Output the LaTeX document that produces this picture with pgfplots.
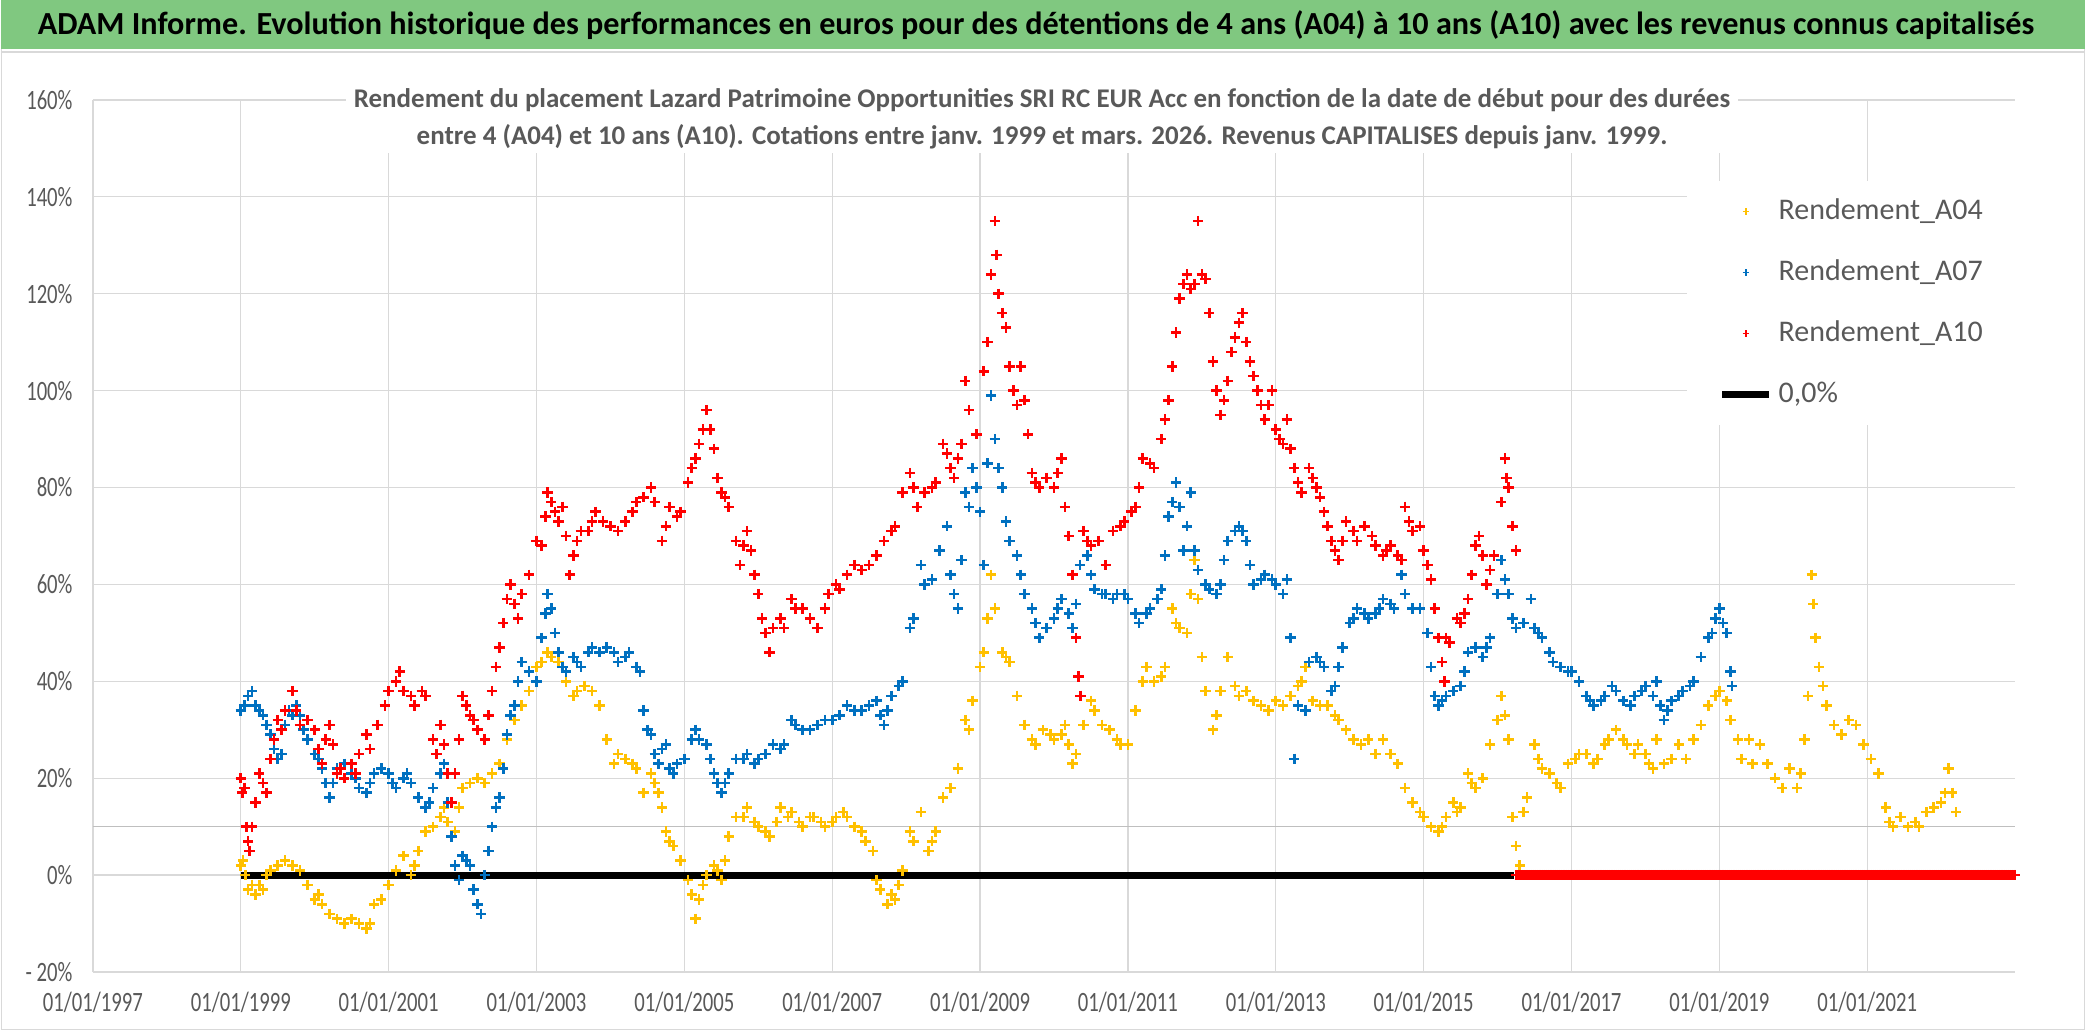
\documentclass[border=0pt]{standalone}
\usepackage{fontspec}
\setmainfont{Carlito}
\newfontfamily\condfont{Carlito}[FakeStretch=0.74]
\usepackage{pgfplots}
\pgfplotsset{compat=1.18}

\definecolor{titlegreen}{RGB}{128,200,128}
\definecolor{textgray}{RGB}{89,89,89}
\definecolor{gridgray}{RGB}{217,217,217}
\definecolor{midgray}{RGB}{191,191,191}
\definecolor{cA04}{RGB}{255,192,0}
\definecolor{cA07}{RGB}{0,112,192}
\definecolor{cA10}{RGB}{255,0,0}

\pgfplotsset{
  markleg/.style={legend image code/.code={\draw[mark repeat=2,mark phase=2,##1,mark size=1.6pt,line width=0.8pt] plot coordinates {(0pt,0pt) (11.75pt,0pt) (23.5pt,0pt)};}},
  lineleg/.style={legend image code/.code={\draw[##1] (0pt,0pt) -- (23.5pt,0pt);}},
  cross/.style={only marks, mark=+, mark size=2.6pt, line width=1.3pt, color=#1, markleg},
}

\begin{document}
\begin{tikzpicture}
% page and title bar
\fill[white] (0pt,0pt) rectangle (1043pt,515.5pt);
\draw[gridgray, line width=0.6pt] (0.3pt,0.3pt) rectangle (1042.7pt,515.2pt);
\fill[titlegreen] (0pt,491pt) rectangle (1043pt,515.5pt);
\draw[gridgray, line width=1pt] (0pt,489.5pt) -- (1043pt,489.5pt);
\node[font=\bfseries\fontsize{16.1}{18}\selectfont, text=black] at (518pt,503pt)
  {ADAM Informe. Evolution historique des performances en euros pour des détentions de 4 ans (A04) à 10 ans (A10) avec les revenus connus capitalisés};

\begin{axis}[
  at={(46pt,29pt)}, anchor=south west,
  scale only axis, width=962pt, height=436.5pt,
  xmin=1997, xmax=2023, ymin=-20, ymax=160,
  xtick={1997,1999,...,2021},
  xticklabels={01/01/1997,01/01/1999,01/01/2001,01/01/2003,01/01/2005,01/01/2007,01/01/2009,01/01/2011,01/01/2013,01/01/2015,01/01/2017,01/01/2019,01/01/2021},
  ytick={-20,0,20,40,60,80,100,120,140,160},
  yticklabels={- 20\%,0\%,20\%,40\%,60\%,80\%,100\%,120\%,140\%,160\%},
  extra y ticks={10}, extra y tick labels={},
  extra y tick style={major grid style={draw=midgray, line width=0.8pt}},
  grid=major, major grid style={draw=gridgray, line width=0.7pt},
  axis line style={draw=none}, major tick length=0pt,
  xticklabel style={font=\condfont\fontsize{14}{16}\selectfont, text=textgray, anchor=north, inner sep=0pt, yshift=-10pt},
  yticklabel style={font=\condfont\fontsize{14}{16}\selectfont, text=textgray, anchor=east, inner sep=0pt, xshift=-10pt},
  clip=false,
  legend style={at={(1,1)}, anchor=north east, yshift=-40.5pt, fill=white, draw=none,
    inner xsep=16pt, inner ysep=9pt, row sep=18pt, column sep=3pt,
    font=\fontsize{15}{17}\selectfont, text=textgray,
    nodes={inner sep=0pt, text height=10pt, text depth=2.5pt}},
  legend cell align=left,
]
\addplot[cross=cA04]
coordinates {
(1999.00,2) (1999.03,3) (1999.06,0) (1999.10,-3) (1999.15,-2) (1999.20,-4) (1999.25,-2) (1999.30,-3) (1999.35,0) (1999.40,1)
(1999.50,2) (1999.60,3) (1999.70,2) (1999.80,1) (1999.90,-2) (2000.00,-5) (2000.05,-4) (2000.10,-6) (2000.20,-8) (2000.30,-9)
(2000.40,-10) (2000.50,-9) (2000.60,-10) (2000.70,-11) (2000.75,-10) (2000.80,-6) (2000.90,-5) (2001.00,-2) (2001.10,1) (2001.20,4)
(2001.30,0) (2001.35,2) (2001.40,5) (2001.50,9) (2001.60,10) (2001.70,12) (2001.75,14) (2001.80,11) (2001.90,9) (2001.95,14)
(2002.00,18) (2002.10,19) (2002.20,20) (2002.30,19) (2002.40,21) (2002.50,23) (2002.60,28) (2002.70,32) (2002.80,35) (2002.90,38)
(2003.00,43) (2003.07,44) (2003.15,46) (2003.20,45) (2003.30,44) (2003.40,40) (2003.50,37) (2003.55,38) (2003.65,39) (2003.75,38)
(2003.85,35) (2003.95,28) (2004.05,23) (2004.10,25) (2004.20,24) (2004.30,23) (2004.35,22) (2004.45,17) (2004.55,21) (2004.60,19)
(2004.65,17) (2004.70,14) (2004.75,9) (2004.80,7) (2004.85,6) (2004.95,3) (2005.05,-1) (2005.10,-4) (2005.15,-9) (2005.20,-5)
(2005.25,-2) (2005.30,0) (2005.40,2) (2005.45,1) (2005.50,-1) (2005.55,3) (2005.60,8) (2005.70,12) (2005.80,12) (2005.85,14)
(2005.95,11) (2006.00,10) (2006.10,9) (2006.15,8) (2006.25,11) (2006.30,14) (2006.40,12) (2006.45,13) (2006.55,11) (2006.60,10)
(2006.70,12) (2006.75,12) (2006.85,11) (2006.90,10) (2007.00,11) (2007.05,12) (2007.15,13) (2007.20,12) (2007.30,10) (2007.40,9)
(2007.45,7) (2007.55,5) (2007.60,-1) (2007.65,-3) (2007.75,-6) (2007.80,-4) (2007.85,-5) (2007.90,-2) (2007.95,1) (2008.05,9)
(2008.10,7) (2008.20,13) (2008.30,5) (2008.35,7) (2008.40,9) (2008.50,16) (2008.60,18) (2008.70,22) (2008.80,32) (2008.85,30)
(2008.90,36) (2009.00,43) (2009.05,46) (2009.10,53) (2009.15,62) (2009.20,55) (2009.30,46) (2009.35,45) (2009.40,44) (2009.50,37)
(2009.60,31) (2009.70,28) (2009.75,27) (2009.85,30) (2009.95,29) (2010.00,28) (2010.10,29) (2010.15,31) (2010.20,27) (2010.25,23)
(2010.30,25) (2010.40,31) (2010.50,36) (2010.55,34) (2010.65,31) (2010.75,30) (2010.85,28) (2010.90,27) (2011.00,27) (2011.10,34)
(2011.20,40) (2011.25,43) (2011.35,40) (2011.45,41) (2011.50,43) (2011.60,55) (2011.65,52) (2011.70,51) (2011.80,50) (2011.85,58)
(2011.90,65) (2011.95,57) (2012.00,45) (2012.05,38) (2012.15,30) (2012.20,33) (2012.25,38) (2012.35,45) (2012.45,39) (2012.50,37)
(2012.60,38) (2012.70,36) (2012.80,35) (2012.90,34) (2013.00,36) (2013.10,35) (2013.20,37) (2013.30,39) (2013.35,40) (2013.40,43)
(2013.50,36) (2013.60,35) (2013.70,35) (2013.80,33) (2013.85,32) (2013.95,30) (2014.05,28) (2014.15,27) (2014.25,28) (2014.35,25)
(2014.45,28) (2014.55,25) (2014.65,23) (2014.75,18) (2014.85,15) (2014.95,13) (2015.00,12) (2015.10,10) (2015.20,9) (2015.25,10)
(2015.30,12) (2015.40,15) (2015.45,13) (2015.50,14) (2015.60,21) (2015.65,19) (2015.70,18) (2015.80,20) (2015.90,27) (2016.00,32)
(2016.05,37) (2016.10,33) (2016.15,28) (2016.20,12) (2016.25,6) (2016.30,2) (2016.35,13) (2016.40,16) (2016.50,27) (2016.55,24)
(2016.60,22) (2016.70,21) (2016.80,19) (2016.85,18) (2016.95,23) (2017.05,24) (2017.10,25) (2017.20,25) (2017.30,23) (2017.35,24)
(2017.45,27) (2017.50,28) (2017.60,30) (2017.70,28) (2017.75,27) (2017.85,25) (2017.90,27) (2018.00,25) (2018.05,23) (2018.10,22)
(2018.15,28) (2018.25,23) (2018.35,24) (2018.45,27) (2018.55,24) (2018.65,28) (2018.75,31) (2018.85,35) (2018.95,37) (2019.00,38)
(2019.10,36) (2019.15,32) (2019.25,28) (2019.30,24) (2019.40,28) (2019.45,23) (2019.55,27) (2019.65,23) (2019.75,20) (2019.85,18)
(2019.95,22) (2020.05,18) (2020.10,21) (2020.15,28) (2020.20,37) (2020.25,62) (2020.27,56) (2020.30,49) (2020.35,43) (2020.40,39)
(2020.45,35) (2020.55,31) (2020.65,29) (2020.75,32) (2020.85,31) (2020.95,27) (2021.05,24) (2021.15,21) (2021.25,14) (2021.30,11)
(2021.35,10) (2021.45,12) (2021.55,10) (2021.65,11) (2021.70,10) (2021.80,13) (2021.90,14) (2022.00,15) (2022.05,17) (2022.10,22)
(2022.15,17) (2022.20,13)
};
\addlegendentry{Rendement\_A04}

\addplot[cross=cA07]
coordinates {
(1999.00,34) (1999.05,35) (1999.10,37) (1999.15,38) (1999.20,35) (1999.25,34) (1999.30,33) (1999.35,31) (1999.40,29) (1999.45,26)
(1999.50,24) (1999.55,25) (1999.60,31) (1999.65,34) (1999.70,33) (1999.75,35) (1999.80,33) (1999.85,30) (1999.90,28) (2000.00,25)
(2000.05,24) (2000.10,22) (2000.15,19) (2000.20,16) (2000.25,19) (2000.30,22) (2000.40,23) (2000.50,21) (2000.55,20) (2000.60,18)
(2000.70,17) (2000.75,19) (2000.80,21) (2000.90,22) (2001.00,21) (2001.05,19) (2001.10,18) (2001.20,20) (2001.25,21) (2001.30,19)
(2001.40,16) (2001.50,14) (2001.55,15) (2001.60,18) (2001.70,21) (2001.75,23) (2001.80,15) (2001.85,8) (2001.90,2) (2001.95,-1)
(2002.00,4) (2002.05,3) (2002.10,2) (2002.15,-3) (2002.20,-6) (2002.25,-8) (2002.30,0) (2002.35,5) (2002.40,10) (2002.45,14)
(2002.50,16) (2002.55,22) (2002.60,29) (2002.65,33) (2002.70,35) (2002.75,40) (2002.80,44) (2002.90,42) (2003.00,40) (2003.07,49)
(2003.12,54) (2003.15,58) (2003.20,55) (2003.25,50) (2003.30,46) (2003.35,43) (2003.40,42) (2003.50,45) (2003.55,44) (2003.60,43)
(2003.70,46) (2003.75,47) (2003.85,46) (2003.95,47) (2004.05,46) (2004.10,44) (2004.20,45) (2004.25,46) (2004.35,43) (2004.40,42)
(2004.45,34) (2004.50,30) (2004.55,29) (2004.60,25) (2004.65,23) (2004.70,26) (2004.75,27) (2004.80,22) (2004.85,21) (2004.90,23)
(2005.00,24) (2005.10,28) (2005.15,30) (2005.20,28) (2005.30,27) (2005.35,24) (2005.40,21) (2005.45,19) (2005.50,17) (2005.55,19)
(2005.60,21) (2005.70,24) (2005.80,24) (2005.85,25) (2005.95,23) (2006.00,24) (2006.10,25) (2006.20,27) (2006.30,26) (2006.35,27)
(2006.45,32) (2006.50,31) (2006.60,30) (2006.70,30) (2006.80,31) (2006.90,32) (2007.00,32) (2007.10,33) (2007.20,35) (2007.30,34)
(2007.40,34) (2007.50,35) (2007.60,36) (2007.65,33) (2007.70,31) (2007.75,34) (2007.80,37) (2007.90,39) (2007.95,40) (2008.05,51)
(2008.10,53) (2008.20,64) (2008.25,60) (2008.35,61) (2008.45,67) (2008.55,72) (2008.60,62) (2008.65,58) (2008.70,55) (2008.75,65)
(2008.80,79) (2008.85,76) (2008.90,84) (2008.95,80) (2009.00,75) (2009.05,64) (2009.10,85) (2009.15,99) (2009.20,90) (2009.25,84)
(2009.30,80) (2009.35,73) (2009.40,69) (2009.50,66) (2009.55,62) (2009.60,58) (2009.70,55) (2009.75,52) (2009.80,49) (2009.90,51)
(2010.00,53) (2010.05,55) (2010.10,57) (2010.20,54) (2010.25,51) (2010.30,56) (2010.35,64) (2010.45,66) (2010.50,62) (2010.55,59)
(2010.65,58) (2010.70,58) (2010.80,57) (2010.85,58) (2010.95,58) (2011.00,57) (2011.10,54) (2011.15,52) (2011.25,54) (2011.30,55)
(2011.40,57) (2011.45,59) (2011.50,66) (2011.55,74) (2011.60,77) (2011.65,81) (2011.70,76) (2011.75,67) (2011.80,72) (2011.85,79)
(2011.90,67) (2011.95,63) (2012.05,60) (2012.10,59) (2012.20,58) (2012.25,60) (2012.30,65) (2012.35,69) (2012.45,71) (2012.50,72)
(2012.55,71) (2012.60,69) (2012.65,64) (2012.70,60) (2012.80,61) (2012.85,62) (2012.95,61) (2013.00,60) (2013.10,58) (2013.15,61)
(2013.20,49) (2013.25,24) (2013.30,35) (2013.40,34) (2013.45,44) (2013.55,45) (2013.60,44) (2013.65,43) (2013.75,38) (2013.80,39)
(2013.85,43) (2013.90,47) (2014.00,52) (2014.05,53) (2014.10,55) (2014.20,54) (2014.25,53) (2014.35,54) (2014.40,55) (2014.45,57)
(2014.55,56) (2014.60,55) (2014.70,62) (2014.75,58) (2014.85,55) (2014.95,55) (2015.05,50) (2015.10,43) (2015.15,37) (2015.20,35)
(2015.25,36) (2015.30,37) (2015.40,38) (2015.50,39) (2015.55,42) (2015.60,46) (2015.70,47) (2015.80,45) (2015.85,47) (2015.90,49)
(2016.00,58) (2016.05,65) (2016.10,61) (2016.15,58) (2016.20,53) (2016.25,51) (2016.35,52) (2016.45,57) (2016.50,51) (2016.55,50)
(2016.60,49) (2016.70,46) (2016.75,44) (2016.85,43) (2016.95,42) (2017.00,42) (2017.10,40) (2017.20,37) (2017.25,36) (2017.30,35)
(2017.40,36) (2017.45,37) (2017.55,39) (2017.60,38) (2017.70,36) (2017.80,35) (2017.85,37) (2017.95,38) (2018.00,39) (2018.10,37)
(2018.15,40) (2018.20,35) (2018.25,32) (2018.30,34) (2018.35,36) (2018.45,37) (2018.50,38) (2018.60,39) (2018.65,40) (2018.75,45)
(2018.85,49) (2018.90,50) (2018.95,53) (2019.00,55) (2019.05,52) (2019.10,50) (2019.15,42) (2019.17,39)
};
\addlegendentry{Rendement\_A07}

\addplot[cross=cA10]
coordinates {
(1999.00,20) (1999.02,17) (1999.05,18) (1999.08,10) (1999.10,7) (1999.12,5) (1999.15,10) (1999.20,15) (1999.25,21) (1999.30,19)
(1999.35,17) (1999.40,24) (1999.45,28) (1999.50,32) (1999.55,30) (1999.60,34) (1999.70,38) (1999.75,34) (1999.80,31) (1999.90,32)
(2000.00,30) (2000.05,26) (2000.10,23) (2000.15,28) (2000.20,31) (2000.25,27) (2000.30,21) (2000.35,22) (2000.40,20) (2000.50,23)
(2000.55,21) (2000.60,25) (2000.70,29) (2000.75,26) (2000.85,31) (2000.95,35) (2001.00,38) (2001.10,40) (2001.15,42) (2001.20,38)
(2001.30,37) (2001.35,35) (2001.45,38) (2001.50,37) (2001.60,28) (2001.65,25) (2001.70,31) (2001.75,27) (2001.80,21) (2001.85,15)
(2001.90,21) (2001.95,28) (2002.00,37) (2002.05,35) (2002.10,33) (2002.15,32) (2002.20,30) (2002.30,28) (2002.35,33) (2002.40,38)
(2002.45,43) (2002.50,47) (2002.55,52) (2002.60,57) (2002.65,60) (2002.70,56) (2002.75,53) (2002.80,58) (2002.90,62) (2003.00,69)
(2003.07,68) (2003.12,74) (2003.15,79) (2003.20,77) (2003.25,75) (2003.30,73) (2003.35,76) (2003.40,70) (2003.45,62) (2003.50,66)
(2003.55,69) (2003.60,71) (2003.70,71) (2003.75,73) (2003.80,75) (2003.90,73) (2004.00,72) (2004.10,71) (2004.20,73) (2004.30,75)
(2004.35,77) (2004.45,78) (2004.55,80) (2004.60,77) (2004.70,69) (2004.75,72) (2004.80,76) (2004.90,74) (2004.95,75) (2005.05,81)
(2005.10,84) (2005.15,86) (2005.20,89) (2005.25,92) (2005.30,96) (2005.35,92) (2005.40,88) (2005.45,82) (2005.50,79) (2005.55,78)
(2005.60,76) (2005.70,69) (2005.75,64) (2005.80,68) (2005.85,71) (2005.90,67) (2005.95,62) (2006.00,58) (2006.05,53) (2006.10,50)
(2006.15,46) (2006.20,51) (2006.30,53) (2006.35,51) (2006.45,57) (2006.50,55) (2006.60,55) (2006.70,53) (2006.80,51) (2006.90,55)
(2006.95,58) (2007.05,60) (2007.10,59) (2007.20,62) (2007.30,64) (2007.40,63) (2007.50,64) (2007.60,66) (2007.70,69) (2007.80,71)
(2007.85,72) (2007.95,79) (2008.05,83) (2008.10,80) (2008.15,76) (2008.25,79) (2008.35,80) (2008.40,81) (2008.50,89) (2008.55,87)
(2008.60,84) (2008.65,82) (2008.70,86) (2008.75,89) (2008.80,102) (2008.85,96) (2008.95,91) (2009.05,104) (2009.10,110) (2009.15,124)
(2009.20,135) (2009.22,128) (2009.25,120) (2009.30,116) (2009.35,113) (2009.40,105) (2009.45,100) (2009.50,97) (2009.55,105) (2009.60,98)
(2009.65,91) (2009.70,83) (2009.75,81) (2009.80,80) (2009.90,82) (2010.00,80) (2010.05,83) (2010.10,86) (2010.15,76) (2010.20,70)
(2010.25,62) (2010.30,49) (2010.33,41) (2010.36,37) (2010.40,71) (2010.45,69) (2010.50,68) (2010.60,69) (2010.70,64) (2010.80,71)
(2010.90,72) (2010.95,73) (2011.05,75) (2011.10,76) (2011.15,80) (2011.20,86) (2011.30,85) (2011.35,84) (2011.45,90) (2011.50,94)
(2011.55,98) (2011.60,105) (2011.65,112) (2011.70,119) (2011.75,122) (2011.80,124) (2011.85,121) (2011.90,122) (2011.95,135) (2012.00,124)
(2012.05,123) (2012.10,116) (2012.15,106) (2012.20,100) (2012.25,95) (2012.30,98) (2012.35,102) (2012.40,108) (2012.45,111) (2012.50,114)
(2012.55,116) (2012.60,110) (2012.65,106) (2012.70,103) (2012.75,100) (2012.80,97) (2012.85,94) (2012.90,97) (2012.95,100) (2013.00,92)
(2013.05,90) (2013.10,89) (2013.15,94) (2013.20,88) (2013.25,84) (2013.30,81) (2013.35,79) (2013.45,84) (2013.50,82) (2013.55,80)
(2013.60,78) (2013.65,75) (2013.70,72) (2013.75,69) (2013.80,67) (2013.85,65) (2013.90,69) (2013.95,73) (2014.05,71) (2014.10,69)
(2014.20,72) (2014.30,70) (2014.35,68) (2014.45,66) (2014.50,67) (2014.55,68) (2014.65,66) (2014.70,65) (2014.75,76) (2014.80,73)
(2014.85,71) (2014.95,72) (2015.00,67) (2015.05,64) (2015.10,61) (2015.15,55) (2015.20,49) (2015.25,44) (2015.28,40) (2015.30,49)
(2015.35,48) (2015.45,53) (2015.50,52) (2015.55,54) (2015.60,57) (2015.65,62) (2015.70,68) (2015.75,70) (2015.80,66) (2015.85,60)
(2015.90,63) (2015.95,66) (2016.05,77) (2016.10,86) (2016.12,82) (2016.15,80) (2016.20,72) (2016.25,67)
(2016.25,0) (2016.30,0) (2016.35,0) (2016.40,0) (2016.45,0) (2016.50,0) (2016.55,0) (2016.60,0) (2016.65,0)
(2016.70,0) (2016.75,0) (2016.80,0) (2016.85,0) (2016.90,0) (2016.95,0)
(2017.00,0) (2017.05,0) (2017.10,0) (2017.15,0) (2017.20,0) (2017.25,0) (2017.30,0) (2017.35,0) (2017.40,0) (2017.45,0)
(2017.50,0) (2017.55,0) (2017.60,0) (2017.65,0) (2017.70,0) (2017.75,0) (2017.80,0) (2017.85,0) (2017.90,0) (2017.95,0)
(2018.00,0) (2018.05,0) (2018.10,0) (2018.15,0) (2018.20,0) (2018.25,0) (2018.30,0) (2018.35,0) (2018.40,0) (2018.45,0)
(2018.50,0) (2018.55,0) (2018.60,0) (2018.65,0) (2018.70,0) (2018.75,0) (2018.80,0) (2018.85,0) (2018.90,0) (2018.95,0)
(2019.00,0) (2019.05,0) (2019.10,0) (2019.15,0) (2019.20,0) (2019.25,0) (2019.30,0) (2019.35,0) (2019.40,0) (2019.45,0)
(2019.50,0) (2019.55,0) (2019.60,0) (2019.65,0) (2019.70,0) (2019.75,0) (2019.80,0) (2019.85,0) (2019.90,0) (2019.95,0)
(2020.00,0) (2020.05,0) (2020.10,0) (2020.15,0) (2020.20,0) (2020.25,0) (2020.30,0) (2020.35,0) (2020.40,0) (2020.45,0)
(2020.50,0) (2020.55,0) (2020.60,0) (2020.65,0) (2020.70,0) (2020.75,0) (2020.80,0) (2020.85,0) (2020.90,0) (2020.95,0)
(2021.00,0) (2021.05,0) (2021.10,0) (2021.15,0) (2021.20,0) (2021.25,0) (2021.30,0) (2021.35,0) (2021.40,0) (2021.45,0)
(2021.50,0) (2021.55,0) (2021.60,0) (2021.65,0) (2021.70,0) (2021.75,0) (2021.80,0) (2021.85,0) (2021.90,0) (2021.95,0)
(2022.00,0) (2022.05,0) (2022.10,0) (2022.15,0) (2022.20,0) (2022.25,0) (2022.30,0) (2022.35,0) (2022.40,0) (2022.45,0)
(2022.50,0) (2022.55,0) (2022.60,0) (2022.65,0) (2022.70,0) (2022.75,0) (2022.80,0) (2022.85,0) (2022.90,0) (2022.95,0)
(2023.00,0)
(2016.275,0) (2016.325,0) (2016.375,0) (2016.425,0) (2016.475,0) (2016.525,0) (2016.575,0) (2016.625,0) (2016.675,0)
(2016.725,0) (2016.775,0) (2016.825,0) (2016.875,0) (2016.925,0) (2016.975,0)
(2017.025,0) (2017.075,0) (2017.125,0) (2017.175,0) (2017.225,0) (2017.275,0) (2017.325,0) (2017.375,0) (2017.425,0) (2017.475,0)
(2017.525,0) (2017.575,0) (2017.625,0) (2017.675,0) (2017.725,0) (2017.775,0) (2017.825,0) (2017.875,0) (2017.925,0) (2017.975,0)
(2018.025,0) (2018.075,0) (2018.125,0) (2018.175,0) (2018.225,0) (2018.275,0) (2018.325,0) (2018.375,0) (2018.425,0) (2018.475,0)
(2018.525,0) (2018.575,0) (2018.625,0) (2018.675,0) (2018.725,0) (2018.775,0) (2018.825,0) (2018.875,0) (2018.925,0) (2018.975,0)
(2019.025,0) (2019.075,0) (2019.125,0) (2019.175,0) (2019.225,0) (2019.275,0) (2019.325,0) (2019.375,0) (2019.425,0) (2019.475,0)
(2019.525,0) (2019.575,0) (2019.625,0) (2019.675,0) (2019.725,0) (2019.775,0) (2019.825,0) (2019.875,0) (2019.925,0) (2019.975,0)
(2020.025,0) (2020.075,0) (2020.125,0) (2020.175,0) (2020.225,0) (2020.275,0) (2020.325,0) (2020.375,0) (2020.425,0) (2020.475,0)
(2020.525,0) (2020.575,0) (2020.625,0) (2020.675,0) (2020.725,0) (2020.775,0) (2020.825,0) (2020.875,0) (2020.925,0) (2020.975,0)
(2021.025,0) (2021.075,0) (2021.125,0) (2021.175,0) (2021.225,0) (2021.275,0) (2021.325,0) (2021.375,0) (2021.425,0) (2021.475,0)
(2021.525,0) (2021.575,0) (2021.625,0) (2021.675,0) (2021.725,0) (2021.775,0) (2021.825,0) (2021.875,0) (2021.925,0) (2021.975,0)
(2022.025,0) (2022.075,0) (2022.125,0) (2022.175,0) (2022.225,0) (2022.275,0) (2022.325,0) (2022.375,0) (2022.425,0) (2022.475,0)
(2022.525,0) (2022.575,0) (2022.625,0) (2022.675,0) (2022.725,0) (2022.775,0) (2022.825,0) (2022.875,0) (2022.925,0) (2022.975,0)
};
\addlegendentry{Rendement\_A10}

\addplot[black, line width=3.4pt, lineleg]
coordinates {(1999.00,0) (2016.22,0)};
\addlegendentry{0,0\%}
\end{axis}

% chart title inside the plot area
\node[fill=white, inner xsep=4pt, inner ysep=2pt, align=center, text=textgray,
  font=\bfseries\fontsize{13.5}{18.5}\selectfont] at (521pt,456.25pt)
  {Rendement du placement Lazard Patrimoine Opportunities SRI RC EUR Acc en fonction de la date de début pour des durées\\
   entre 4 (A04) et 10 ans (A10). Cotations entre janv. 1999 et mars. 2026. Revenus CAPITALISES depuis janv. 1999.};
\end{tikzpicture}
\end{document}
